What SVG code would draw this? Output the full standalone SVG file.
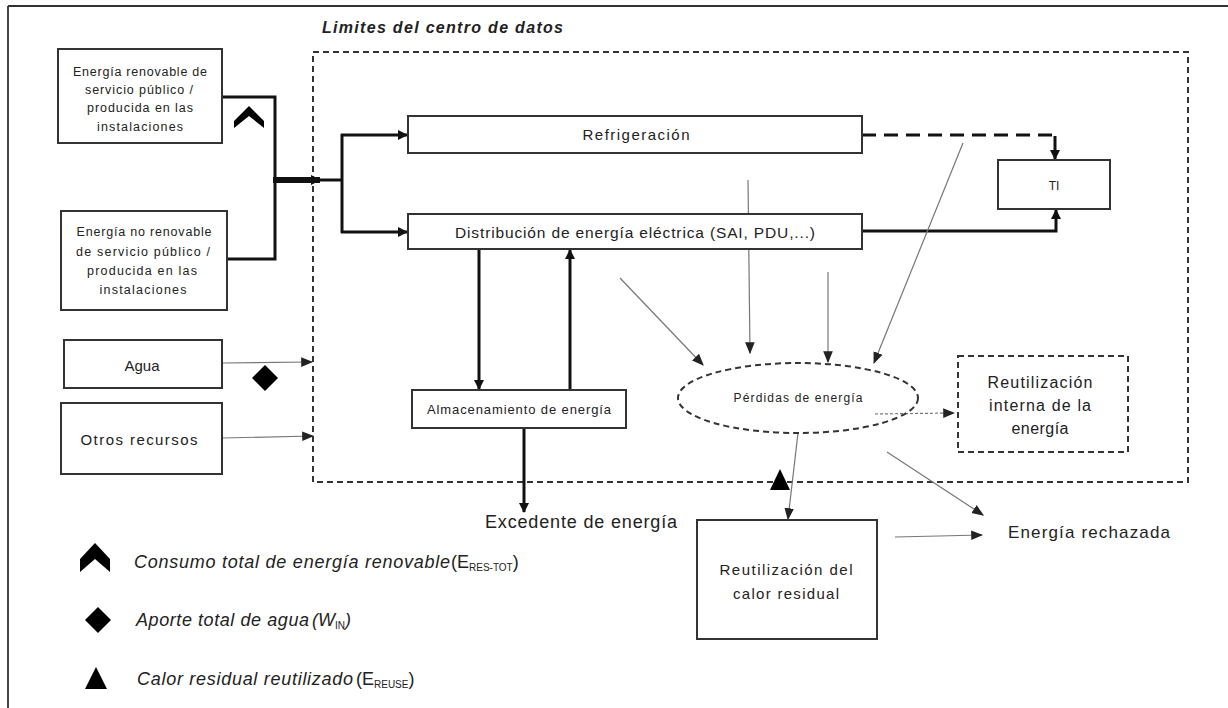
<svg xmlns="http://www.w3.org/2000/svg" width="1228" height="708" viewBox="0 0 1228 708">
<defs>
<style>
text{font-family:"Liberation Sans",Arial,sans-serif;fill:#222;}
.box{fill:#fff;stroke:#333;stroke-width:2;}
.dbox{fill:none;stroke:#333;stroke-width:2;stroke-dasharray:6 4;}
.thick{fill:none;stroke:#111;stroke-width:3;}
.thin{fill:none;stroke:#777;stroke-width:1.2;}
.sym{fill:#000;}
.c{text-anchor:middle;}
.it{font-style:italic;}
.lg{font-size:18px;}
.sub{font-size:10px;font-style:normal;}
</style>
<marker id="ah" viewBox="0 0 10 10" refX="9" refY="5" markerWidth="10" markerHeight="10" markerUnits="userSpaceOnUse" orient="auto"><path d="M0,0 L10,5 L0,10 Z" fill="#111"/></marker>
<marker id="ahs" viewBox="0 0 10 10" refX="9" refY="5" markerWidth="12" markerHeight="12" markerUnits="userSpaceOnUse" orient="auto"><path d="M0,1 L10,5 L0,9 Z" fill="#222"/></marker>
</defs>
<rect width="1228" height="708" fill="#fff"/>
<g id="frame">
<line x1="8" y1="6" x2="1228" y2="6" stroke="#333" stroke-width="2"/>
<line x1="8" y1="6" x2="8" y2="708" stroke="#444" stroke-width="2"/>
</g>
<g id="boundary">
<rect x="313" y="52" width="875" height="430" class="dbox"/>
<text x="322" y="33" font-size="16" font-weight="bold" class="it" textLength="241">Limites del centro de datos</text>
</g>
<g id="connectors">
<polyline points="222,97 275,97 275,180" class="thick"/>
<polyline points="227,259 275,259 275,180" class="thick"/>
<line x1="273" y1="180" x2="320" y2="180" stroke="#111" stroke-width="6" marker-end="url(#ah)"/>
<line x1="318" y1="180" x2="342" y2="180" class="thick"/>
<line x1="342" y1="134" x2="342" y2="233" class="thick"/>
<line x1="341" y1="135" x2="407" y2="135" class="thick" marker-end="url(#ah)"/>
<line x1="341" y1="232" x2="407" y2="232" class="thick" marker-end="url(#ah)"/>
<polyline points="862,135 1055,135" fill="none" stroke="#111" stroke-width="3" stroke-dasharray="14 8"/>
<line x1="1055" y1="136" x2="1055" y2="159" class="thick" marker-end="url(#ah)"/>
<polyline points="862,231 1056,231 1056,210" class="thick" marker-end="url(#ah)"/>
<line x1="479" y1="249" x2="479" y2="389" class="thick" marker-end="url(#ah)"/>
<line x1="570" y1="390" x2="570" y2="250" class="thick" marker-end="url(#ah)"/>
<line x1="524" y1="428" x2="524" y2="512" class="thick" marker-end="url(#ah)"/>
<line x1="222" y1="363" x2="312" y2="362" class="thin" marker-end="url(#ahs)"/>
<line x1="222" y1="438" x2="313" y2="436" class="thin" marker-end="url(#ahs)"/>
<line x1="963" y1="143" x2="874" y2="363" class="thin" marker-end="url(#ahs)"/>
<line x1="748" y1="180" x2="750" y2="353" class="thin" marker-end="url(#ahs)"/>
<line x1="828" y1="272" x2="828" y2="362" class="thin" marker-end="url(#ahs)"/>
<line x1="620" y1="278" x2="703" y2="365" class="thin" marker-end="url(#ahs)"/>
<line x1="875" y1="414" x2="954" y2="413" class="thin" stroke-dasharray="3 2" marker-end="url(#ahs)"/>
<line x1="798" y1="433" x2="788" y2="519" class="thin" marker-end="url(#ahs)"/>
<line x1="887" y1="452" x2="983" y2="515" class="thin" marker-end="url(#ahs)"/>
<line x1="895" y1="537" x2="982" y2="535" class="thin" marker-end="url(#ahs)"/>
</g>
<g id="markers">
<path d="M234,121 L249,106 L264,121 L264,128 L249,116 L234,128 Z" class="sym"/>
<path d="M265,365 L278,378 L265,391 L252,378 Z" class="sym"/>
<path d="M780,469 L790,490 L770,490 Z" class="sym"/>
</g>
<g id="n-renovable">
<rect x="58" y="49" width="164" height="94" class="box"/>
<text x="140" y="76" font-size="12.5" class="c" textLength="134">Energía renovable de</text>
<text x="139" y="94" font-size="12.5" class="c" textLength="108">servicio público /</text>
<text x="140" y="112" font-size="12.5" class="c" textLength="106">producida en las</text>
<text x="140" y="131" font-size="12.5" class="c" textLength="86">instalaciones</text>
</g>
<g id="n-norenovable">
<rect x="61" y="211" width="166" height="99" class="box"/>
<text x="144" y="236" font-size="12.5" class="c" textLength="135">Energía no renovable</text>
<text x="143" y="256" font-size="12.5" class="c" textLength="134">de servicio público /</text>
<text x="142" y="275" font-size="12.5" class="c" textLength="110">producida en las</text>
<text x="143" y="294" font-size="12.5" class="c" textLength="87">instalaciones</text>
</g>
<g id="n-agua">
<rect x="64" y="340" width="158" height="48" class="box"/>
<text x="142" y="371" font-size="15" class="c">Agua</text>
</g>
<g id="n-otros">
<rect x="61" y="403" width="161" height="71" class="box"/>
<text x="139" y="445" font-size="15" class="c" textLength="117">Otros recursos</text>
</g>
<g id="n-refrigeracion">
<rect x="408" y="116" width="454" height="37" class="box"/>
<text x="636" y="140" font-size="15" class="c" textLength="107">Refrigeración</text>
</g>
<g id="n-distribucion">
<rect x="408" y="214" width="454" height="35" class="box"/>
<text x="635" y="238" font-size="15.5" class="c" textLength="360">Distribución de energía eléctrica (SAI, PDU,...)</text>
</g>
<g id="n-ti">
<rect x="998" y="160" width="112" height="49" class="box"/>
<text x="1054" y="190" font-size="12" class="c">TI</text>
</g>
<g id="n-almacenamiento">
<rect x="412" y="390" width="214" height="38" class="box"/>
<text x="519" y="414" font-size="13" class="c" textLength="184">Almacenamiento de energía</text>
</g>
<g id="n-perdidas">
<ellipse cx="798" cy="398" rx="120" ry="35" fill="none" stroke="#333" stroke-width="2" stroke-dasharray="6 4"/>
<text x="798" y="402" font-size="12" class="c" textLength="129">Pérdidas de energía</text>
</g>
<g id="n-reutilizacion-interna">
<rect x="958" y="356" width="170" height="96" class="dbox"/>
<text x="1040" y="388" font-size="16" class="c" textLength="105">Reutilización</text>
<text x="1040" y="411" font-size="16" class="c" textLength="102">interna de la</text>
<text x="1040" y="434" font-size="16" class="c" textLength="57">energía</text>
</g>
<g id="n-calor">
<rect x="697" y="520" width="180" height="119" class="box"/>
<text x="786" y="575" font-size="15" class="c" textLength="133">Reutilización del</text>
<text x="786" y="599" font-size="15" class="c" textLength="106">calor residual</text>
</g>
<g id="n-excedente">
<text x="581" y="528" font-size="18" class="c" textLength="192">Excedente de energía</text>
</g>
<g id="n-rechazada">
<text x="1008" y="538" font-size="17" textLength="162">Energía rechazada</text>
</g>
<g id="legend">
<path d="M80,559 L95,543 L110,559 L110,572 L95,559 L80,572 Z" class="sym"/>
<text x="134" y="568" class="lg it" textLength="316">Consumo total de energía renovable</text>
<text x="451" y="568" class="lg">(E<tspan class="sub" dy="3">RES-TOT</tspan><tspan dy="-3">)</tspan></text>
<path d="M98,607 L111,620 L98,633 L85,620 Z" class="sym"/>
<text x="136" y="626" class="lg it" textLength="173">Aporte total de agua</text>
<text x="312" y="626" class="lg it">(W<tspan class="sub" dy="3">IN</tspan><tspan dy="-3">)</tspan></text>
<path d="M96,667 L107,689 L85,689 Z" class="sym"/>
<text x="137" y="685" class="lg it" textLength="216">Calor residual reutilizado</text>
<text x="356" y="685" class="lg">(E<tspan class="sub" dy="3">REUSE</tspan><tspan dy="-3">)</tspan></text>
</g>
</svg>
